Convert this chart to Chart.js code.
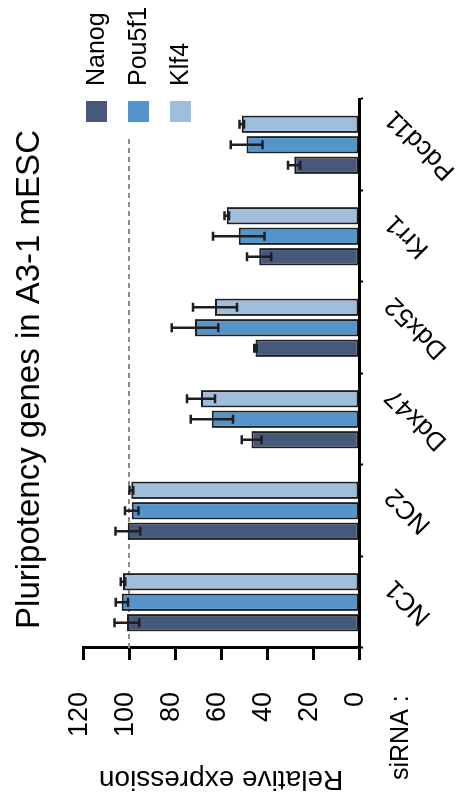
<!DOCTYPE html>
<html>
<head>
<meta charset="utf-8">
<script src="https://cdn.jsdelivr.net/npm/chart.js@4.4.1/dist/chart.umd.min.js"></script>
<style>
  html, body { margin: 0; padding: 0; background: #fff; overflow: hidden; width: 458px; height: 806px; }
  /* the figure is laid out landscape and turned a quarter turn counter-clockwise */
  #wrap { position: absolute; left: 0; top: 0; width: 806px; height: 458px;
          transform-origin: 0 0; transform: translate(0, 806px) rotate(-90deg); }
  canvas { display: block; }
</style>
</head>
<body>
<div id="wrap"><canvas id="chart" width="806" height="458"></canvas></div>
<script>
// siRNA targets
const categories = ['NC1', 'NC2', 'Ddx47', 'Ddx52', 'Krr1', 'Pdcd11'];

// relative expression (mean) and error (±) per gene
const nanog     = [100.9, 100.5, 46.7, 45.0, 43.4, 28.2];
const nanogErr  = [5.4, 5.4, 4.3, 0.5, 5.3, 2.7];
const pou5f1    = [103.1, 98.8, 64.0, 71.3, 52.3, 48.9];
const pou5f1Err = [2.7, 2.9, 9.2, 10.1, 11.2, 6.9];
const klf4      = [102.6, 99.0, 68.7, 62.6, 57.5, 51.0];
const klf4Err   = [1.0, 0.8, 6.1, 9.6, 1.0, 1.0];

const seriesNames = ['Nanog', 'Pou5f1', 'Klf4'];
const yTicks = [0, 20, 40, 60, 80, 100, 120];
const refValue = 100;       // control level, dashed
const refEndIndex = 5.1;    // dashed line stops short of the legend

const TITLE = 'Pluripotency genes in A3-1 mESC';
const FONT = '"Liberation Sans", Arial, Helvetica, sans-serif';
const INK = '#1e1e1e';
const COLORS = ['#46597a', '#5494c9', '#a0bddc'];

Chart.defaults.font.family = FONT;
Chart.defaults.color = '#000';

const refLine = {
  id: 'refLine',
  beforeDatasetsDraw(chart) {
    const { ctx, chartArea, scales: { x, y } } = chart;
    const py = y.getPixelForValue(refValue);
    ctx.save();
    ctx.strokeStyle = '#8a8a8a';
    ctx.lineWidth = 2;
    ctx.setLineDash([5, 4]);
    ctx.beginPath();
    ctx.moveTo(chartArea.left, py);
    ctx.lineTo(x.getPixelForValue(refEndIndex), py);
    ctx.stroke();
    ctx.restore();
  }
};

const errorBars = {
  id: 'errorBars',
  afterDatasetsDraw(chart) {
    const { ctx, scales: { y } } = chart;
    ctx.save();
    ctx.strokeStyle = INK;
    ctx.lineWidth = 2.5;
    ctx.lineCap = 'butt';
    chart.data.datasets.forEach((ds, di) => {
      const meta = chart.getDatasetMeta(di);
      meta.data.forEach((bar, i) => {
        const v = ds.data[i], e = ds.errors[i];
        const y1 = y.getPixelForValue(v + e);
        const y2 = y.getPixelForValue(v - e);
        const cx = bar.x, cap = 4.5;
        ctx.beginPath();
        ctx.moveTo(cx, y1); ctx.lineTo(cx, y2);
        ctx.moveTo(cx - cap, y1); ctx.lineTo(cx + cap, y1);
        ctx.moveTo(cx - cap, y2); ctx.lineTo(cx + cap, y2);
        ctx.stroke();
      });
    });
    ctx.restore();
  }
};

const annotations = {
  id: 'annotations',
  afterDraw(chart) {
    const { ctx, chartArea, scales: { x } } = chart;
    ctx.save();
    ctx.fillStyle = '#000';

    // title, centred a little left of the plot's middle
    ctx.font = '33px ' + FONT;
    ctx.textAlign = 'center';
    ctx.textBaseline = 'alphabetic';
    ctx.fillText(TITLE, (chartArea.left + chartArea.right) / 2 - 6, 39);

    // category labels, tilted
    const size = 26;
    ctx.font = size + 'px ' + FONT;
    ctx.textAlign = 'center';
    ctx.textBaseline = 'middle';
    const a = Math.PI / 4;
    categories.forEach((lab, i) => {
      const w = ctx.measureText(lab).width;
      const h = size * 0.75;
      const half = (w * Math.sin(a) + h * Math.cos(a)) / 2;
      ctx.save();
      ctx.translate(x.getPixelForTick(i), x.top + 24 + half);
      ctx.rotate(-a);
      ctx.fillText(lab, 0, 0);
      ctx.restore();
    });

    // row caption
    ctx.font = '25px ' + FONT;
    ctx.textAlign = 'left';
    ctx.textBaseline = 'alphabetic';
    ctx.fillText('siRNA :', 26, x.top + 49);

    // legend
    ctx.font = '25px ' + FONT;
    ctx.textBaseline = 'middle';
    chart.data.datasets.forEach((ds, i) => {
      const sx = chartArea.right - 23;
      const sy = chartArea.top + 3 + i * 42;
      ctx.fillStyle = ds.backgroundColor;
      ctx.fillRect(sx, sy, 21, 21);
      ctx.fillStyle = '#000';
      ctx.fillText(ds.label, chartArea.right + 13, sy + 11);
    });
    ctx.restore();
  }
};

const values = [nanog, pou5f1, klf4];
const errs = [nanogErr, pou5f1Err, klf4Err];

new Chart(document.getElementById('chart'), {
  type: 'bar',
  data: {
    labels: categories,
    datasets: seriesNames.map((name, i) => ({
      label: name,
      data: values[i],
      errors: errs[i],
      backgroundColor: COLORS[i],
      borderColor: INK,
      borderWidth: 2,
      borderSkipped: false
    }))
  },
  options: {
    responsive: false,
    animation: false,
    layout: { padding: { left: 0, right: 99, top: 83, bottom: 0 } },
    datasets: { bar: { categoryPercentage: 0.672, barPercentage: 0.845 } },
    plugins: {
      legend: { display: false },
      tooltip: { enabled: false },
      title: { display: false }
    },
    scales: {
      x: {
        type: 'category',
        offset: true,
        grid: { offset: true, drawOnChartArea: false, drawTicks: true, tickLength: 4, tickWidth: 2, tickColor: '#000' },
        border: { display: true, color: '#000', width: 3 },
        ticks: { display: false },
        afterFit(s) { s.height = 99; }
      },
      y: {
        min: yTicks[0],
        max: yTicks[yTicks.length - 1],
        afterBuildTicks(s) { s.ticks = yTicks.map(v => ({ value: v })); },
        ticks: { color: '#000', font: { size: 27 }, padding: 32, labelOffset: -3 },
        grid: { drawOnChartArea: false, drawTicks: true, tickLength: 12, tickWidth: 3, tickColor: '#000' },
        border: { display: true, color: '#000', width: 3 },
        title: { display: true, text: 'Relative expression', color: '#000', font: { size: 28 }, padding: { top: 10, bottom: 0 } },
        afterFit(s) { s.width = 158; }
      }
    }
  },
  plugins: [refLine, errorBars, annotations]
});
</script>
</body>
</html>
